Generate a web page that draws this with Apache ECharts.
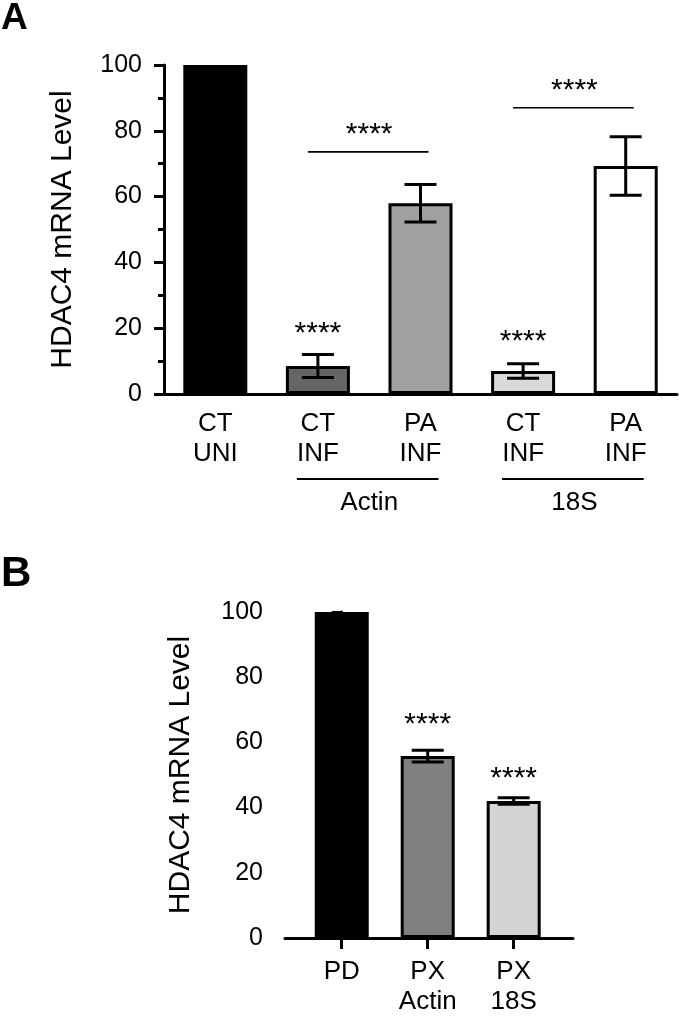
<!DOCTYPE html>
<html>
<head>
<meta charset="utf-8">
<script src="https://cdn.jsdelivr.net/npm/echarts@6/dist/echarts.min.js"></script>
<style>
html, body { margin: 0; padding: 0; background: #fff; }
#chart { width: 680px; height: 1017px; }
</style>
</head>
<body>
<div id="chart"></div>
<script>
// ---- panel A data ----
var catsA = ['CT\nUNI', 'CT\nINF', 'PA\nINF', 'CT\nINF', 'PA\nINF'];
var meanA = [100, 8.5, 58, 7, 69.3];
var errA = [0, 3.5, 5.7, 2.2, 8.9];
var starLevelA = [null, 20.4, null, 18, null];
var bracketPairsA = [[1, 2], [3, 4]];
var bracketLevelA = [73.6, 87];
var groupNamesA = ['Actin', '18S'];
var groupSpanA = [[1, 2], [3, 4]];

// ---- panel B data ----
var catsB = ['PD', 'PX\nActin', 'PX\n18S'];
var meanB = [100, 55.8, 42];
var errB = [0, 1.8, 1];
var starLevelB = [null, 67.7, 50.9];

var yTicks = [0, 20, 40, 60, 80, 100];

var FONT = 'Liberation Sans, Arial, Helvetica, sans-serif';
var fillsA = ['#000000', '#666666', '#a0a0a0', '#d9d9d9', '#ffffff'];
var fillsB = ['#000000', '#808080', '#d4d4d4'];

var chart = echarts.init(document.getElementById('chart'));

function yAxisCfg(gridIndex, gap) {
  return {
    gridIndex: gridIndex,
    type: 'value',
    min: yTicks[0],
    max: yTicks[yTicks.length - 1],
    interval: 20,
    name: 'HDAC4 mRNA Level',
    nameLocation: 'middle',
    nameGap: gap,
    nameTextStyle: { fontSize: 30, color: '#000', fontFamily: FONT },
    axisLine: { show: true, lineStyle: { color: '#000', width: 3 } },
    axisTick: { show: true, length: 10, lineStyle: { color: '#000', width: 3 } },
    minorTick: { show: true, splitNumber: 2, length: 6, lineStyle: { color: '#000', width: 3 } },
    splitLine: { show: false },
    axisLabel: { fontSize: 25, color: '#000', margin: 22, fontFamily: FONT }
  };
}

var lineSt = { stroke: '#000', lineWidth: 3 };

function errRender(params, api) {
  var x = api.value(0), m = api.value(1), e = api.value(2);
  if (!e) return null;
  var top = api.coord([x, m + e]);
  var bot = api.coord([x, m - e]);
  var w = 16;
  return {
    type: 'group',
    children: [
      { type: 'line', shape: { x1: top[0], y1: top[1], x2: bot[0], y2: bot[1] }, style: lineSt },
      { type: 'line', shape: { x1: top[0] - w, y1: top[1], x2: top[0] + w, y2: top[1] }, style: lineSt },
      { type: 'line', shape: { x1: bot[0] - w, y1: bot[1], x2: bot[0] + w, y2: bot[1] }, style: lineSt }
    ]
  };
}

function starRender(params, api) {
  var p = api.coord([api.value(0), api.value(1)]);
  return {
    type: 'text',
    style: { text: '****', x: p[0], y: p[1] + 7, align: 'center', verticalAlign: 'middle',
      font: '30px ' + FONT, fill: '#000' }
  };
}

var option = {
  animation: false,
  backgroundColor: '#fff',
  title: [
    { text: 'A', left: 1, top: 0, padding: 0, textStyle: { fontSize: 37, fontWeight: 'bold', color: '#000', fontFamily: FONT } },
    { text: 'B', left: 1, top: 553, padding: 0, textStyle: { fontSize: 42, fontWeight: 'bold', color: '#000', fontFamily: FONT } }
  ],
  grid: [
    { left: 164, top: 65, width: 513, height: 329 },
    { left: 285, top: 612, width: 288, height: 328 }
  ],
  xAxis: [
    {
      gridIndex: 0,
      type: 'category',
      data: catsA,
      axisLine: { lineStyle: { color: '#000', width: 3 } },
      axisTick: { alignWithLabel: true, length: 11, lineStyle: { color: '#000', width: 3 } },
      axisLabel: { fontSize: 26, lineHeight: 30, color: '#000', margin: 15, fontFamily: FONT }
    },
    {
      gridIndex: 1,
      type: 'value',
      min: -0.66,
      max: 2.69,
      splitLine: { show: false },
      axisLine: { show: true, lineStyle: { color: '#000', width: 3 } },
      axisTick: { show: true, customValues: [0, 1, 2], length: 11, lineStyle: { color: '#000', width: 3 } },
      axisLabel: {
        customValues: [0, 1, 2], fontSize: 26, lineHeight: 30, color: '#000', margin: 19, fontFamily: FONT,
        formatter: function (v) { return catsB[Math.round(v)]; }
      }
    }
  ],
  yAxis: [yAxisCfg(0, 86), yAxisCfg(1, 89)],
  series: [
    {
      type: 'bar', xAxisIndex: 0, yAxisIndex: 0, barWidth: 64,
      data: meanA.map(function (v, i) {
        return { value: v, itemStyle: { color: fillsA[i], borderColor: '#000', borderWidth: 3 } };
      })
    },
    {
      type: 'custom', xAxisIndex: 0, yAxisIndex: 0, z: 10,
      data: meanA.map(function (v, i) { return [i, v, errA[i]]; }),
      renderItem: errRender
    },
    {
      type: 'custom', xAxisIndex: 0, yAxisIndex: 0, z: 10,
      data: starLevelA.map(function (v, i) { return [i, v]; }).filter(function (d) { return d[1] != null; }),
      renderItem: starRender
    },
    {
      // significance brackets
      type: 'custom', xAxisIndex: 0, yAxisIndex: 0, z: 10,
      data: bracketPairsA.map(function (p, i) { return [p[0], p[1], bracketLevelA[i]]; }),
      renderItem: function (params, api) {
        var a = api.coord([api.value(0), api.value(2)]);
        var b = api.coord([api.value(1), api.value(2)]);
        return {
          type: 'group',
          children: [
            { type: 'line', shape: { x1: a[0] - 10, y1: a[1], x2: b[0] + 8, y2: b[1] }, style: { stroke: '#000', lineWidth: 1.6 } },
            { type: 'text', style: { text: '****', x: (a[0] + b[0]) / 2, y: a[1] - 24 + 7, align: 'center', verticalAlign: 'middle', font: '30px ' + FONT, fill: '#000' } }
          ]
        };
      }
    },
    {
      // group labels under the axis
      type: 'custom', xAxisIndex: 0, yAxisIndex: 0, z: 10,
      data: groupSpanA.map(function (p, i) { return [p[0], p[1], i]; }),
      renderItem: function (params, api) {
        var a = api.coord([api.value(0), 0]);
        var b = api.coord([api.value(1), 0]);
        var y = a[1] + 85;
        return {
          type: 'group',
          children: [
            { type: 'line', shape: { x1: a[0] - 21, y1: y, x2: b[0] + 18, y2: y }, style: { stroke: '#000', lineWidth: 2 } },
            { type: 'text', style: { text: groupNamesA[api.value(2)], x: (a[0] + b[0]) / 2, y: y + 11, align: 'center', verticalAlign: 'top', font: '26px ' + FONT, fill: '#000' } }
          ]
        };
      }
    },
    {
      type: 'bar', xAxisIndex: 1, yAxisIndex: 1, barWidth: 54,
      data: meanB.map(function (v, i) {
        return { value: [i, v], itemStyle: { color: fillsB[i], borderColor: '#000', borderWidth: 3 } };
      })
    },
    {
      type: 'custom', xAxisIndex: 1, yAxisIndex: 1, z: 10,
      data: meanB.map(function (v, i) { return [i, v, errB[i]]; }),
      renderItem: errRender
    },
    {
      type: 'custom', xAxisIndex: 1, yAxisIndex: 1, z: 10,
      data: starLevelB.map(function (v, i) { return [i, v]; }).filter(function (d) { return d[1] != null; }),
      renderItem: starRender
    }
  ]
};

chart.setOption(option);
</script>
</body>
</html>
